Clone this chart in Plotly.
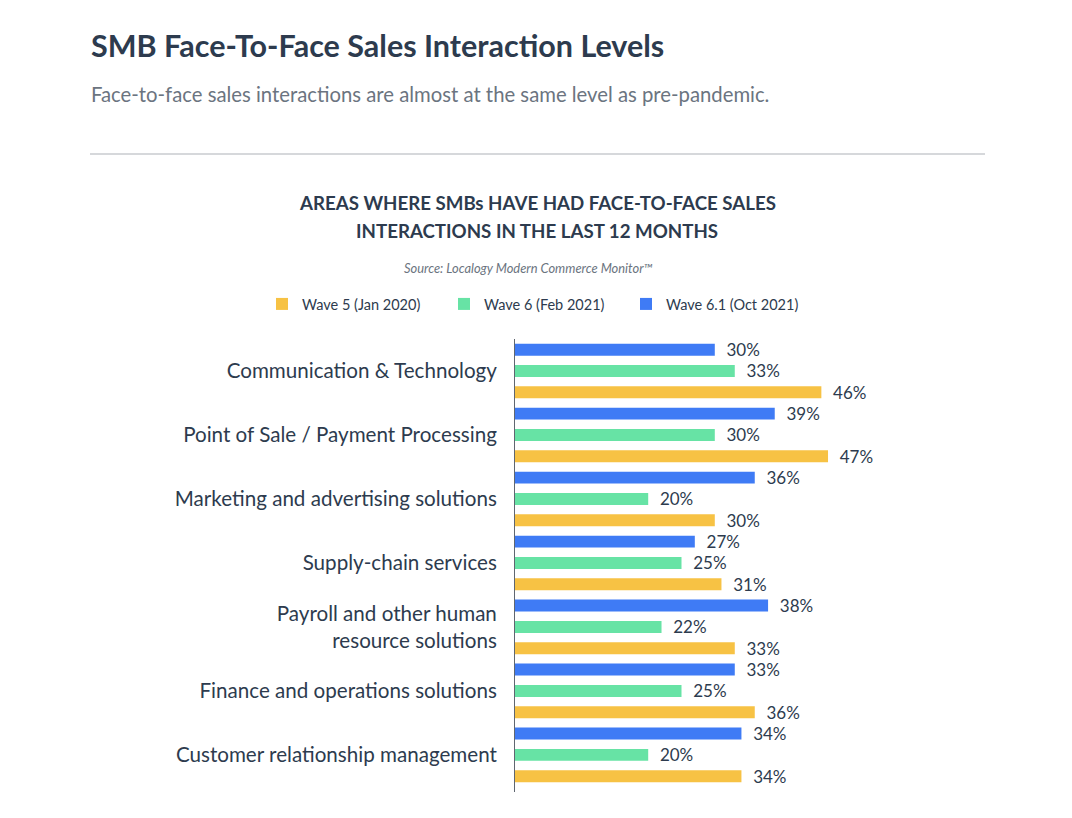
import plotly.graph_objects as go

# categories listed bottom-to-top (plotly draws first category at the bottom)
categories = [
    "Customer relationship management",
    "Finance and operations solutions",
    "Payroll and other human<br>resource solutions",
    "Supply-chain services",
    "Marketing and advertising solutions",
    "Point of Sale / Payment Processing",
    "Communication & Technology",
]
wave5 = [34, 36, 33, 31, 30, 47, 46]
wave6 = [20, 25, 22, 25, 20, 30, 33]
wave61 = [34, 33, 38, 27, 36, 39, 30]

series_names = ["Wave 5 (Jan 2020)", "Wave 6 (Feb 2021)", "Wave 6.1 (Oct 2021)"]
series_colors = ["#f7c244", "#67e3a5", "#3f7bf5"]

FONT = "Lato"
DARK = "#2d3b4e"
GREY = "#6b7480"

# the page body adds an 8px offset, so positions below are page pixels minus 8
OFF = 8
W, H = 1072 - OFF, 818 - OFF
pl, pt = 515 - OFF, 339 - OFF
pw = 333
ph = 453
pr, pb = W - pl - pw, H - pt - ph


def px_x(x):
    return (x - OFF - pl) / pw


def px_y(y):
    return (H - pb - (y - OFF)) / ph


fig = go.Figure()
for name, vals, color in zip(series_names, [wave5, wave6, wave61], series_colors):
    fig.add_trace(go.Bar(
        y=categories, x=vals, name=name, orientation="h",
        marker=dict(color=color, line=dict(width=0)),
        text=[f"\u00a0\u00a0{v}%" for v in vals], textposition="outside",
        textfont=dict(family=FONT, size=17, color=DARK),
        constraintext="none", cliponaxis=False,
    ))

fig.update_layout(
    width=W, height=H,
    paper_bgcolor="white", plot_bgcolor="white",
    margin=dict(l=pl, r=pr, t=pt, b=pb),
    barmode="group", bargap=0, bargroupgap=0.44,
    font=dict(family=FONT, color=DARK),
    showlegend=True,
    legend=dict(
        orientation="h",
        x=px_x(262), xanchor="left",
        y=px_y(304), yanchor="middle",
        font=dict(family=FONT, size=14.5, color=DARK),
        entrywidth=137, traceorder="normal", itemclick=False,
    ),
    xaxis=dict(range=[0, 50], visible=False, showgrid=False, zeroline=False),
    yaxis=dict(
        range=[-0.58, 6.5], showgrid=False, zeroline=False,
        showline=True, linecolor="#5f6670", linewidth=1, ticks="",
        tickfont=dict(family=FONT, size=20.6, color=DARK), ticklabelstandoff=13,
    ),
)

annotations = [
    dict(text="<b>SMB Face-To-Face Sales Interaction Levels</b>", x=89, y=45,
         size=30.5, color=DARK, anchor="left"),
    dict(text="Face-to-face sales interactions are almost at the same level as pre-pandemic.",
         x=89, y=94, size=20.3, color=GREY, anchor="left"),
    dict(text="<b>AREAS WHERE SMBs HAVE HAD FACE-TO-FACE SALES</b>", x=537, y=203,
         size=18.7, color=DARK, anchor="center"),
    dict(text="<b>INTERACTIONS IN THE LAST 12 MONTHS</b>", x=537, y=231,
         size=18.7, color=DARK, anchor="center"),
    dict(text="<i>Source: Localogy Modern Commerce Monitor™</i>", x=528, y=268,
         size=12.9, color=GREY, anchor="center"),
]
for a in annotations:
    fig.add_annotation(
        text=a["text"], xref="paper", yref="paper",
        x=px_x(a["x"]), y=px_y(a["y"]),
        xanchor=a["anchor"], yanchor="middle", showarrow=False,
        font=dict(family=FONT, size=a["size"], color=a["color"]),
    )

# divider line under the subtitle
fig.add_shape(
    type="line", xref="paper", yref="paper",
    x0=px_x(90), x1=px_x(985), y0=px_y(154), y1=px_y(154),
    line=dict(color="#c8cbcf", width=1.5),
)

fig.write_html("out.html")
